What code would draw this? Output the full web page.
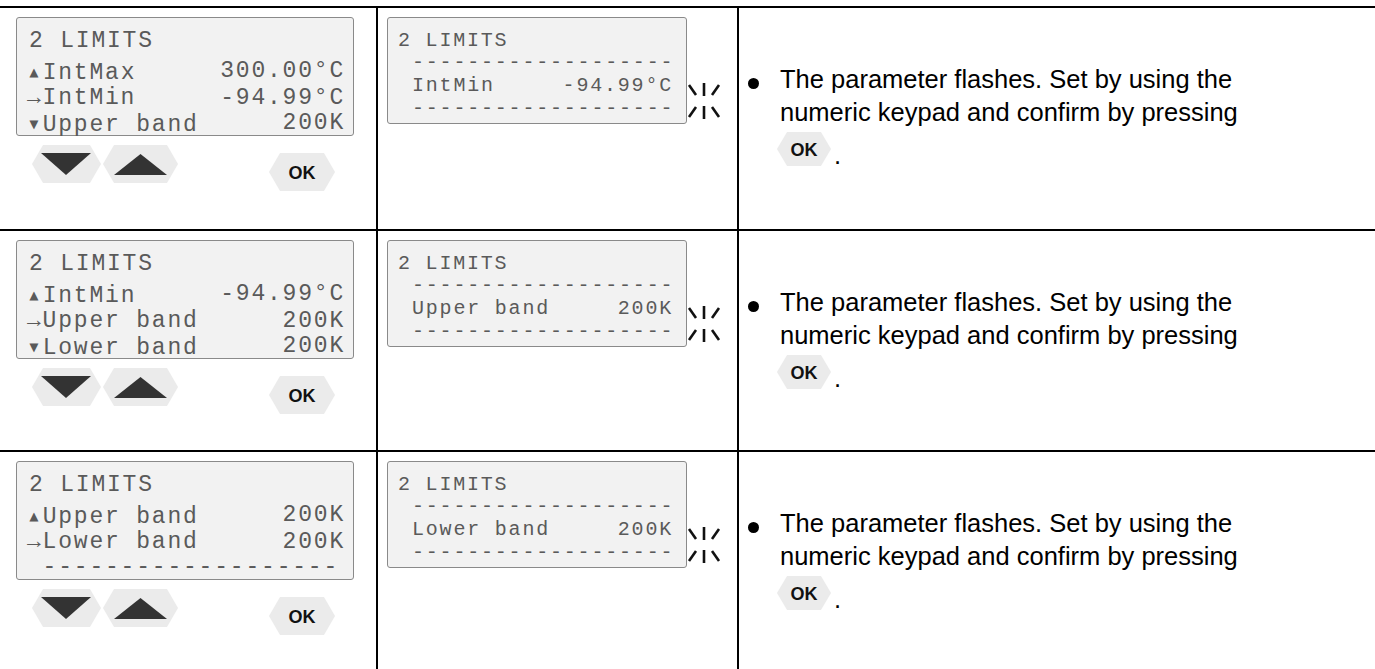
<!DOCTYPE html>
<html>
<head>
<meta charset="utf-8">
<script src="https://cdn.jsdelivr.net/npm/chart.js@4"></script>
<style>
  html, body { margin: 0; padding: 0; background: #fff; }
  body { width: 1375px; height: 669px; position: relative; overflow: hidden; font-family: "Liberation Sans", Arial, sans-serif; }
  .hline { position: absolute; left: 0; width: 1375px; height: 2px; background: #000; }
  .vline { position: absolute; top: 7px; width: 2px; height: 662px; background: #000; }
  .lcd { position: absolute; background: #f2f2f2; border: 1.5px solid #8a8a8a; border-radius: 3px; box-sizing: border-box;
         font-family: "Liberation Mono", "DejaVu Sans Mono", monospace; color: #5a5a5a; white-space: pre; }
  .lcd .ln { position: absolute; display: flex; justify-content: space-between; }
  .big { font-size: 23px; letter-spacing: 1.8px; }
  .small { font-size: 20px; letter-spacing: 1.8px; }
  .abs { position: absolute; }
  .txt { position: absolute; font-size: 25.5px; color: #000; line-height: 33px; }
  .ok { font-family: "Liberation Sans", Arial, sans-serif; font-weight: bold; font-size: 18px; fill: #111; }
</style>
</head>
<body>
<script>
// row tops (table lines) and texts of each row
const rowTops = [7, 230, 451];

const menuLines = [
  [['2 LIMITS', ''], ['\u25B4IntMax', '300.00\u00B0C'], ['\u2192IntMin', '-94.99\u00B0C'], ['\u25BEUpper band', '200K']],
  [['2 LIMITS', ''], ['\u25B4IntMin', '-94.99\u00B0C'], ['\u2192Upper band', '200K'], ['\u25BELower band', '200K']],
  [['2 LIMITS', ''], ['\u25B4Upper band', '200K'], ['\u2192Lower band', '200K'], [' -------------------', '']]
];

const editLines = [
  ['IntMin', '-94.99\u00B0C'],
  ['Upper band', '200K'],
  ['Lower band', '200K']
];

const noteLines = ['The parameter flashes. Set by using the', 'numeric keypad and confirm by pressing'];

const body = document.body;

function add(html) {
  body.insertAdjacentHTML('beforeend', html);
}

function hex(w, h, p) {
  return `${p},0 ${w - p},0 ${w},${h / 2} ${w - p},${h} ${p},${h} 0,${h / 2}`;
}

// table lines
rowTops.forEach(t => add(`<div class="hline" style="top:${t - 1}px"></div>`));
add(`<div class="vline" style="left:376px"></div>`);
add(`<div class="vline" style="left:737px"></div>`);

rowTops.forEach((t, r) => {
  const top = t + 10;

  // left display: menu
  let inner = '';
  const ys = [10, 40, 67, 92];
  menuLines[r].forEach((ln, i) => {
    const left = i === 0 ? 12 : 10;
    inner += `<div class="ln big" style="top:${ys[i]}px;left:${left}px;right:8px"><span>${ln[0]}</span><span>${ln[1]}</span></div>`;
  });
  add(`<div class="lcd" style="left:16px;top:${top}px;width:338px;height:119px">${inner}</div>`);

  // keys
  add(`<svg class="abs" style="left:32px;top:${top + 128}px" width="70" height="38">
      <polygon points="${hex(69, 38, 11)}" fill="#ebebeb"/>
      <polygon points="9,8 59,8 34,30" fill="#333"/></svg>`);
  add(`<svg class="abs" style="left:103px;top:${top + 128}px" width="76" height="38">
      <polygon points="${hex(75, 38, 11)}" fill="#ebebeb"/>
      <polygon points="11,30 64,30 37.5,9" fill="#333"/></svg>`);
  add(`<svg class="abs" style="left:269px;top:${top + 136}px" width="67" height="39">
      <polygon points="${hex(66, 38, 11)}" fill="#ebebeb"/>
      <text class="ok" x="33" y="26" text-anchor="middle">OK</text></svg>`);

  // middle display: edit value
  const dash = '-------------------';
  let mid = `<div class="ln small" style="top:11px;left:10px"><span>2 LIMITS</span></div>`;
  mid += `<div class="ln small" style="top:33px;left:24px;right:13px"><span>${dash}</span></div>`;
  mid += `<div class="ln small" style="top:56px;left:24px;right:13px"><span>${editLines[r][0]}</span><span>${editLines[r][1]}</span></div>`;
  mid += `<div class="ln small" style="top:79px;left:24px;right:13px"><span>${dash}</span></div>`;
  add(`<div class="lcd" style="left:387px;top:${top}px;width:300px;height:107px">${mid}</div>`);

  // flashing marks
  add(`<svg class="abs" style="left:686px;top:${top + 64}px" width="40" height="40" stroke="#111" stroke-width="2.6">
      <line x1="3" y1="4" x2="10" y2="14"/><line x1="18" y1="2" x2="18" y2="15"/><line x1="33" y1="4" x2="26" y2="14"/>
      <line x1="3" y1="36" x2="10" y2="26"/><line x1="18" y1="38" x2="18" y2="25"/><line x1="33" y1="36" x2="26" y2="26"/></svg>`);

  // right column note
  add(`<div class="abs" style="left:748px;top:${t + 71}px;width:11px;height:11px;border-radius:50%;background:#000"></div>`);
  add(`<div class="txt" style="left:780px;top:${t + 56}px">${noteLines[0]}<br>${noteLines[1]}</div>`);
  add(`<svg class="abs" style="left:777px;top:${t + 125}px" width="56" height="36">
      <polygon points="${hex(54, 34, 10)}" fill="#ebebeb"/>
      <text class="ok" x="27" y="24" text-anchor="middle">OK</text></svg>`);
  add(`<div class="txt" style="left:834px;top:${t + 132}px">.</div>`);
});
</script>
</body>
</html>
